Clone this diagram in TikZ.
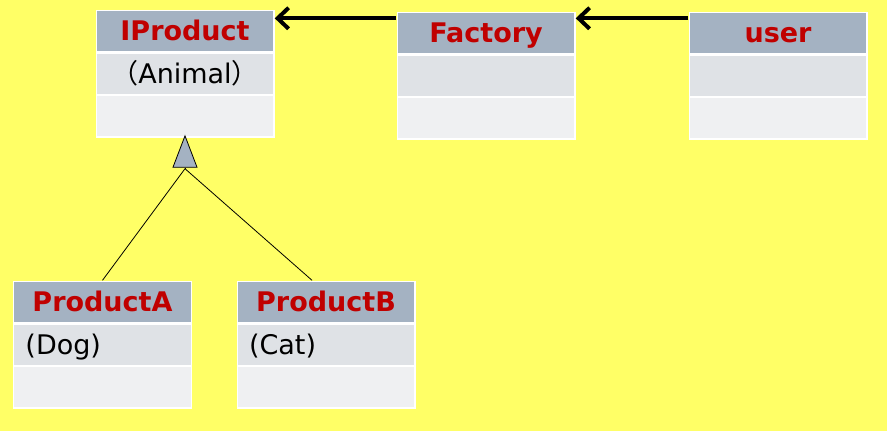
\documentclass[tikz,border=0pt]{standalone}
\usepackage{fontspec}
\setmainfont{DejaVu Sans}
\newfontfamily\cjk{Noto Sans CJK SC}
\usepackage{xcolor}
\usepackage{tikz}
\usetikzlibrary{matrix,calc,arrows.meta}

\definecolor{bgyellow}{HTML}{FFFF66}
\definecolor{headgray}{HTML}{A4B2C2}
\definecolor{attrgray}{HTML}{DFE2E6}
\definecolor{opgray}{HTML}{EFF0F2}
\definecolor{titlered}{HTML}{C00000}

\begin{document}
\begin{tikzpicture}[x=1pt,y=-1pt,
    umlclass/.style={matrix of nodes, nodes in empty cells, fill=white,
        inner sep=1.5pt, row sep=2.5pt,
        nodes={minimum width=176pt, minimum height=40pt, inner sep=0pt,
            anchor=center, text height=19pt, text depth=0pt},
        row 1/.style={nodes={fill=headgray, text=titlered,
            font=\bfseries\fontsize{27}{32}\selectfont}},
        row 2/.style={nodes={fill=attrgray, font=\fontsize{27}{32}\selectfont}},
        row 3/.style={nodes={fill=opgray}}},
    leftcell/.style={text width=154pt, align=left},
    assoc/.style={line width=4pt, -{Straight Barb[length=11pt,width=21pt]}},
    inherit/.style={line width=0.8pt, -{Triangle[width=25pt,length=33pt,fill=headgray]}}]

        \useasboundingbox (0,0) rectangle (887,431);
        \fill[bgyellow] (0,0) rectangle (887,431);

        \matrix (iprod) [umlclass] at (185,73.5)
        {
            IProduct \\
            {\cjk （}Animal{\cjk ）} \\
            \\
        };

        \matrix (factory) [umlclass] at ($(iprod.center)+(301,2)$)
        {
            Factory \\
            \\
            \\
        };

        \matrix (user) [umlclass] at ($(factory.center)+(292,0)$)
        {
            user \\
            \\
            \\
        };

        \matrix (proda) [umlclass] at (102.5,344.5)
        {
            ProductA \\
            |[leftcell]| (Dog) \\
            \\
        };

        \matrix (prodb) [umlclass] at ($(proda.center)+(223.5,0)$)
        {
            ProductB \\
            |[leftcell]| (Cat) \\
            \\
        };

        \draw[assoc]([yshift=-7pt]user.north west)--([yshift=-7pt]factory.north east);
        \draw[assoc]([yshift=-7pt]factory.north west)--([yshift=-9pt]iprod.north east);

        \coordinate (inh) at ($(iprod.south)+(0,31)$);
        \draw[inherit](inh)--([yshift=3pt]iprod.south);
        \draw[line width=0.8pt](proda.north)--(inh);
        \draw[line width=0.8pt]([xshift=-14pt]prodb.north)--(inh);
    \end{tikzpicture}
\end{document}
